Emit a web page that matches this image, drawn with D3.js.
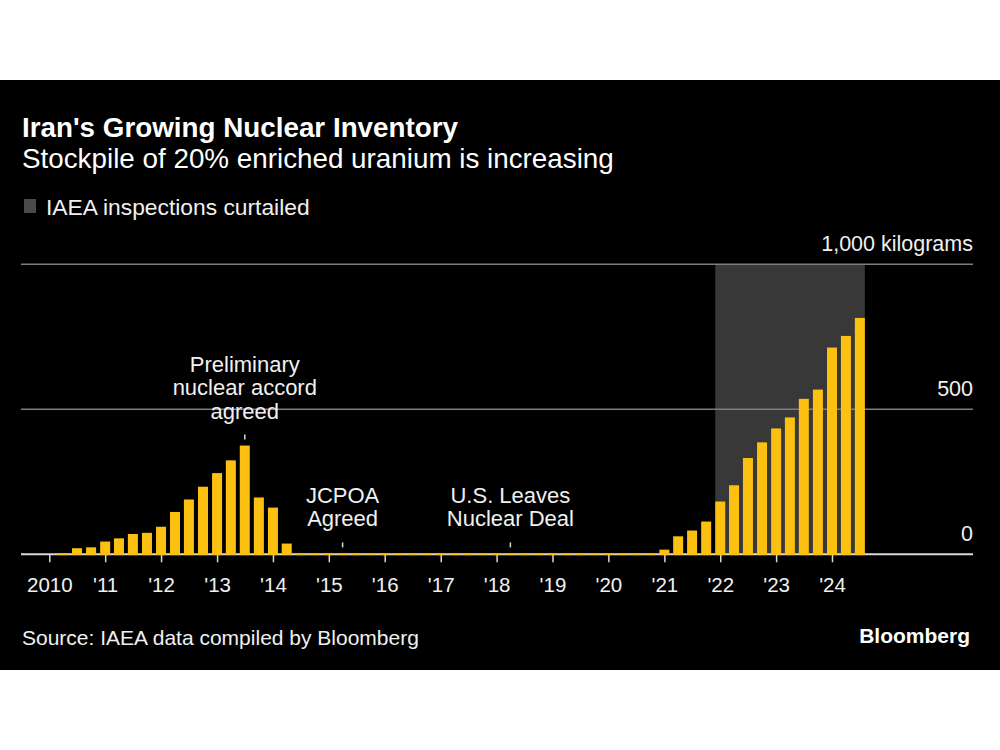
<!DOCTYPE html>
<html>
<head>
<meta charset="utf-8">
<script src="https://cdn.jsdelivr.net/npm/d3@7"></script>
<style>
  html, body { margin: 0; padding: 0; background: #ffffff; }
  svg { display: block; }
  text { font-family: "Liberation Sans", Arial, sans-serif; }
</style>
</head>
<body>
<svg id="chart" width="1000" height="750"></svg>
<script>
// ---------- DATA ----------
const titleText = "Iran's Growing Nuclear Inventory";
const subtitleText = "Stockpile of 20% enriched uranium is increasing";
const legendText = "IAEA inspections curtailed";
const sourceText = "Source: IAEA data compiled by Bloomberg";
const brandText = "Bloomberg";

// Quarterly reporting periods (one bar each)
const periods = [
  "2010-01","2010-04","2010-07","2010-10",
  "2011-01","2011-04","2011-07","2011-10",
  "2012-01","2012-04","2012-07","2012-10",
  "2013-01","2013-04","2013-07","2013-10",
  "2014-01","2014-04","2014-07","2014-10",
  "2015-01","2015-04","2015-07","2015-10",
  "2016-01","2016-04","2016-07","2016-10",
  "2017-01","2017-04","2017-07","2017-10",
  "2018-01","2018-04","2018-07","2018-10",
  "2019-01","2019-04","2019-07","2019-10",
  "2020-01","2020-04","2020-07","2020-10",
  "2021-01","2021-04","2021-07","2021-10",
  "2022-01","2022-04","2022-07","2022-10",
  "2023-01","2023-04","2023-07","2023-10",
  "2024-01","2024-04","2024-07"
];
// Stockpile of 20% enriched uranium, kilograms
const stockpileKg = [
  0, 4, 21, 24,
  44, 55, 70, 74,
  95, 146, 189, 233,
  280, 324, 375, 196,
  161, 37, 3, 3,
  3, 3, 3, 3,
  3, 3, 3, 3,
  3, 3, 3, 3,
  3, 3, 3, 3,
  3, 3, 3, 3,
  3, 3, 3, 3,
  16, 62, 82, 113,
  182, 238, 332, 386,
  434, 472, 536, 568,
  713, 753, 815
];

// Shaded period: IAEA inspections curtailed (first and last bar covered)
const curtailedStart = "2022-01";
const curtailedEnd = "2024-07";

// Axis ticks
const xTickYears = [2010,2011,2012,2013,2014,2015,2016,2017,2018,2019,2020,2021,2022,2023,2024];
const xTickLabels = ["2010","'11","'12","'13","'14","'15","'16","'17","'18","'19","'20","'21","'22","'23","'24"];
const yTickValues = [0, 500, 1000];
const yTickLabels = ["0", "500", "1,000 kilograms"];

// Annotations
const annotationPeriods = ["2013-07", "2015-04", "2018-04"];
const annotationLines = [
  ["Preliminary", "nuclear accord", "agreed"],
  ["JCPOA", "Agreed"],
  ["U.S. Leaves", "Nuclear Deal"]
];

// ---------- LAYOUT ----------
const W = 1000, H = 750;
const panelTop = 80, panelBottom = 670;
const plotLeft = 21, plotRight = 973;
const parse = d3.timeParse("%Y-%m");

const svg = d3.select("#chart");

// background
svg.append("rect").attr("x", 0).attr("y", 0).attr("width", W).attr("height", H).attr("fill", "#ffffff");
svg.append("rect").attr("x", 0).attr("y", panelTop).attr("width", W).attr("height", panelBottom - panelTop).attr("fill", "#000000");

const x = d3.scaleTime()
  .domain([new Date(2010, 0, 1), new Date(2024, 0, 1)])
  .range([49.3, 832]);
const y = d3.scaleLinear().domain([0, 1000]).range([554.3, 264.3]);

const barW = 10;

// Titles
svg.append("text").attr("x", 22).attr("y", 137)
  .attr("fill", "#ffffff").attr("font-size", 27.8).attr("font-weight", "bold")
  .text(titleText);
svg.append("text").attr("x", 22).attr("y", 168)
  .attr("fill", "#ffffff").attr("font-size", 27.8)
  .text(subtitleText);

// Legend
svg.append("rect").attr("x", 24).attr("y", 199).attr("width", 12).attr("height", 14).attr("fill", "#4a4a4a");
svg.append("text").attr("x", 46).attr("y", 215)
  .attr("fill", "#f0f0f0").attr("font-size", 22.8)
  .text(legendText);

// Shaded band
const bandX0 = x(parse(curtailedStart)) - barW / 2;
const bandX1 = x(parse(curtailedEnd)) + barW / 2;
svg.append("rect")
  .attr("x", bandX0).attr("y", y(1000))
  .attr("width", bandX1 - bandX0).attr("height", y(0) - y(1000))
  .attr("fill", "#383838");

// Gridlines
svg.append("g").selectAll("line")
  .data(yTickValues.filter(v => v !== 0))
  .join("line")
  .attr("x1", plotLeft).attr("x2", plotRight)
  .attr("y1", d => y(d)).attr("y2", d => y(d))
  .attr("stroke", "#7d7d7d").attr("stroke-width", 1.5);

// Y labels
svg.append("g").selectAll("text")
  .data(yTickValues)
  .join("text")
  .attr("x", plotRight).attr("y", d => y(d) - 13.5)
  .attr("text-anchor", "end")
  .attr("fill", "#f0f0f0").attr("font-size", 21.5)
  .text((d, i) => yTickLabels[i]);

// X axis with ticks
const xAxis = d3.axisBottom(x)
  .tickValues(xTickYears.map(yr => new Date(yr, 0, 1)))
  .tickFormat((d, i) => xTickLabels[i])
  .tickSize(8)
  .tickPadding(15);
const gx = svg.append("g").attr("transform", `translate(0,${y(0)})`).call(xAxis);
gx.select(".domain").remove();
gx.selectAll(".tick line").attr("stroke", "#d8d8d8").attr("stroke-width", 1.5);
gx.selectAll(".tick text")
  .attr("fill", "#f0f0f0").attr("font-size", 20.5)
  .attr("font-family", "'Liberation Sans', Arial, sans-serif");

// Baseline
svg.append("line")
  .attr("x1", plotLeft).attr("x2", plotRight)
  .attr("y1", y(0)).attr("y2", y(0))
  .attr("stroke", "#d8d8d8").attr("stroke-width", 2);

// Bars
const barData = periods.map((p, i) => ({ date: parse(p), value: stockpileKg[i] }));
svg.append("g").selectAll("rect")
  .data(barData.filter(d => d.value > 0))
  .join("rect")
  .attr("x", d => x(d.date) - barW / 2)
  .attr("y", d => y(d.value))
  .attr("width", barW)
  .attr("height", d => y(0) - y(d.value) + 0.8)
  .attr("fill", "#fcc011");

// Annotations
const lineH = 23.5;
annotationPeriods.forEach((p, i) => {
  const d = parse(p);
  const idx = periods.indexOf(p);
  const top = y(stockpileKg[idx]);
  const cx = x(d);
  svg.append("line")
    .attr("x1", cx).attr("x2", cx)
    .attr("y1", top - 11).attr("y2", top - 6)
    .attr("stroke", "#d8d8d8").attr("stroke-width", 1.5);
  const lines = annotationLines[i];
  const lastBase = top - 11 - 16;
  lines.forEach((t, j) => {
    svg.append("text")
      .attr("x", cx)
      .attr("y", lastBase - (lines.length - 1 - j) * lineH)
      .attr("text-anchor", "middle")
      .attr("fill", "#f0f0f0").attr("font-size", 22)
      .text(t);
  });
});

// Footer
svg.append("text").attr("x", 22).attr("y", 645)
  .attr("fill", "#f0f0f0").attr("font-size", 21)
  .text(sourceText);
svg.append("text").attr("x", 970).attr("y", 643)
  .attr("text-anchor", "end")
  .attr("fill", "#ffffff").attr("font-size", 21).attr("font-weight", "bold")
  .text(brandText);
</script>
</body>
</html>
